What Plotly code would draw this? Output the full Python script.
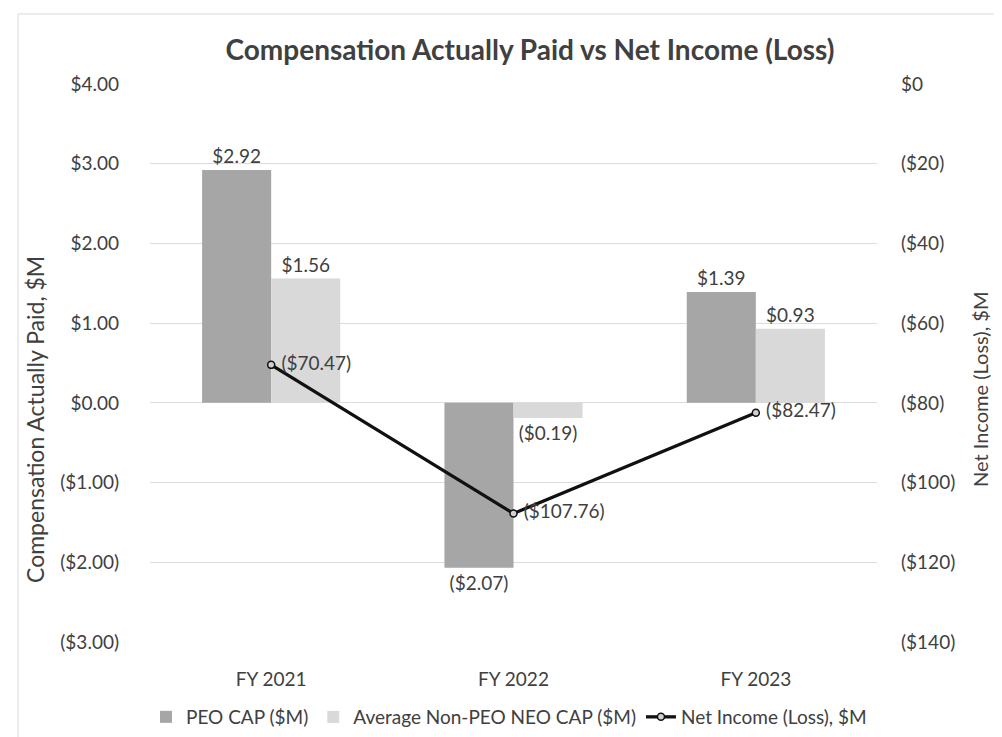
import plotly.graph_objects as go

categories = ["FY 2021", "FY 2022", "FY 2023"]
peo_cap = [2.92, -2.07, 1.39]
neo_cap = [1.56, -0.19, 0.93]
net_income = [-70.47, -107.76, -82.47]

left_tickvals = [4, 3, 2, 1, 0, -1, -2, -3]
left_ticktext = ["$4.00", "$3.00", "$2.00", "$1.00", "$0.00", "($1.00)", "($2.00)", "($3.00)"]
right_tickvals = [0, -20, -40, -60, -80, -100, -120, -140]
right_ticktext = ["$0", "($20)", "($40)", "($60)", "($80)", "($100)", "($120)", "($140)"]


def money2(v):
    return f"${v:.2f}" if v >= 0 else f"(${-v:.2f})"


FONT = "Lato"
TXT = "#404040"
FS = 19

fig = go.Figure()
fig.add_trace(go.Bar(
    x=categories, y=peo_cap, name="PEO CAP ($M)",
    marker=dict(color="#a6a6a6", line=dict(width=0)),
    text=[money2(v) for v in peo_cap], textposition="outside",
    textfont=dict(family=FONT, size=FS, color=TXT), cliponaxis=False,
))
fig.add_trace(go.Bar(
    x=categories, y=neo_cap, name="Average Non-PEO NEO CAP ($M)",
    marker=dict(color="#d9d9d9", line=dict(width=0)),
    text=[money2(v) for v in neo_cap], textposition="outside",
    textfont=dict(family=FONT, size=FS, color=TXT), cliponaxis=False,
))
fig.add_trace(go.Scatter(
    x=categories, y=net_income, name="Net Income (Loss), $M", yaxis="y2",
    mode="lines+markers+text",
    line=dict(color="#111111", width=3.3),
    marker=dict(symbol="circle", size=7, color="#d0d0d0", line=dict(color="#111111", width=1.5)),
    text=[" " + money2(v) for v in net_income], textposition="middle right",
    textfont=dict(family=FONT, size=FS, color=TXT), cliponaxis=False,
))

fig.update_layout(
    width=1002, height=737,
    paper_bgcolor="white", plot_bgcolor="white",
    margin=dict(l=142, r=133, t=76, b=103, autoexpand=False),
    barmode="group", bargap=0.43, bargroupgap=0,
    font=dict(family=FONT, color=TXT, size=FS),
    title=dict(text="<b>Compensation Actually Paid vs Net Income (Loss)</b>",
               x=0.5227, xanchor="center", xref="paper", y=0.943, yanchor="middle",
               font=dict(family=FONT, size=28, color="#404040")),
    xaxis=dict(type="category", showgrid=False, showline=False, ticks="",
               ticklabelstandoff=24, tickfont=dict(family=FONT, size=FS, color=TXT)),
    yaxis=dict(range=[-3, 4], tickvals=left_tickvals, ticktext=left_ticktext,
               showgrid=True, gridcolor="#dcdcdc", gridwidth=1,
               zeroline=True, zerolinecolor="#dcdcdc", zerolinewidth=1,
               showline=False, ticks="", ticklabelstandoff=30,
               tickfont=dict(family=FONT, size=FS, color=TXT)),
    yaxis2=dict(range=[-140, 0], tickvals=right_tickvals, ticktext=right_ticktext,
                overlaying="y", side="right", showgrid=False, zeroline=False,
                showline=False, ticks="", ticklabelstandoff=23,
                tickfont=dict(family=FONT, size=FS, color=TXT)),
    legend=dict(orientation="h", x=0.5, xref="container", xanchor="center",
                y=1 - 709 / 737, yref="container", yanchor="middle",
                font=dict(family=FONT, size=19, color=TXT), traceorder="normal",
                itemwidth=30),
    showlegend=True,
)

fig.add_annotation(text="Compensation Actually Paid, $M", textangle=-90,
                   xref="paper", yref="paper", x=(27 - 142) / 727, y=(634 - 412) / 558,
                   xanchor="center", yanchor="middle", showarrow=False,
                   font=dict(family=FONT, size=23, color=TXT))
fig.add_annotation(text="Net Income (Loss), $M", textangle=-90,
                   xref="paper", yref="paper", x=(972 - 142) / 727, y=(634 - 382) / 558,
                   xanchor="center", yanchor="middle", showarrow=False,
                   font=dict(family=FONT, size=20, color=TXT))

fig.add_shape(type="rect", xref="paper", yref="paper",
              x0=-132 / 727, x1=1 + 124 / 727, y0=-(103 - 2) / 558, y1=1 + (76 - 6) / 558,
              line=dict(color="#d9d9d9", width=1), fillcolor="rgba(0,0,0,0)", layer="below")

fig.write_html("out.html")
